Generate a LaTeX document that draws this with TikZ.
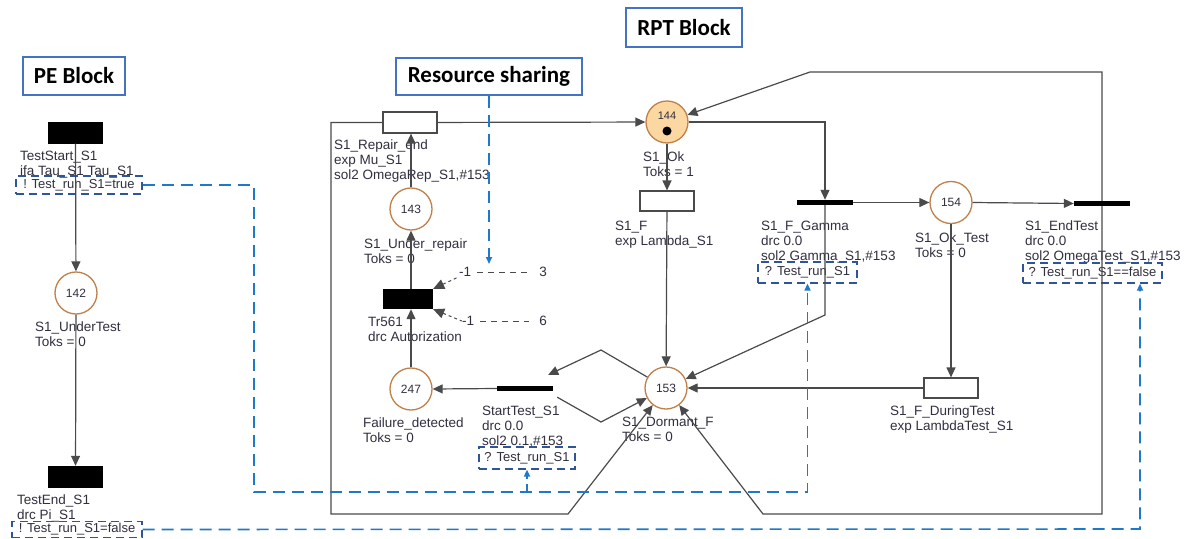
\documentclass[tikz,border=0pt]{standalone}
\usepackage{fontspec}
\setmainfont{Liberation Sans}
\newfontfamily\blockfont{Carlito}
\usetikzlibrary{arrows.meta,calc}
\definecolor{arcc}{HTML}{4A4A4A}
\definecolor{placec}{HTML}{C0804A}
\definecolor{okfill}{HTML}{FBD7A2}
\definecolor{sigblue}{HTML}{1F78C8}
\definecolor{condblue}{HTML}{2F5597}
\definecolor{blockblue}{HTML}{4472C4}
\definecolor{txt}{HTML}{303040}
\begin{document}
\begin{tikzpicture}[x=1pt,y=-1pt,
 lab/.style={anchor=north west, align=left, inner sep=0pt, font=\fontsize{13.5}{15}\selectfont, text=txt},
 place/.style={circle, draw=placec, line width=1.3pt, minimum size=42pt, inner sep=0pt, font=\fontsize{12}{13}\selectfont, text=txt},
 wtrans/.style={draw=arcc, line width=1.2pt, fill=white, minimum width=54pt, minimum height=21pt, inner sep=0pt},
 btrans/.style={fill=black, minimum width=55pt, minimum height=22pt, inner sep=0pt},
 bar/.style={fill=black, minimum width=56pt, minimum height=5pt, inner sep=0pt},
 arc/.style={draw=arcc, line width=1.2pt, -{Triangle[length=10pt,width=9pt]}},
 cond/.style={draw=condblue, dash pattern=on 8pt off 5pt, line width=1.2pt, inner sep=0pt, font=\fontsize{13}{15}\selectfont, text=txt},
 sig/.style={draw=sigblue, line width=1.6pt, dash pattern=on 12pt off 7pt, -{Triangle[length=7pt,width=6pt]}},
 block/.style={draw=blockblue, line width=1.3pt, inner sep=0pt, font=\blockfont\bfseries\fontsize{23}{26}\selectfont},
 num/.style={inner sep=0pt, font=\fontsize{13.5}{15}\selectfont, text=txt}
]
\fill[white] (0,0) rectangle (1190,538);
\useasboundingbox (0,0) rectangle (1190,538);

% block titles
\node[block, minimum width=102pt, minimum height=38pt] (pe) at (74,76) {PE Block};
\node[block, minimum width=186pt, minimum height=37pt] (rs) at (489,76.5) {Resource sharing};
\node[block, minimum width=116pt, minimum height=39pt] (rpt) at (684,27.5) {RPT Block};

% places
\node[place] (p142) at (76,293) {142};
\node[place] (p143) at (411,209) {143};
\node[place] (p247) at (411,389) {247};
\node[place, fill=okfill] (p144) at (667,122) {};
\node[num, font=\fontsize{11}{12}\selectfont] (n144) at (667,116) {144};
\fill (667,131) circle (4.5pt);
\node[place] (p153) at (666,388) {153};
\node[place] (p154) at (951,202.5) {154};

% transitions
\node[btrans] (tStart) at (75.5,132.5) {};
\node[btrans] (tEnd) at (75.5,477) {};
\node[wtrans] (tRep) at (410,122.5) {};
\node[wtrans, minimum height=20pt] (tF) at (667,201) {};
\node[wtrans, minimum height=20pt] (tDT) at (951,388) {};
\node[btrans, minimum width=50pt, minimum height=20pt] (tr561) at (408,299) {};
\node[bar] (bST) at (525,388.5) {};
\node[bar] (bG) at (825,202.5) {};
\node[bar] (bE) at (1102,203.5) {};

% labels
\node[lab] (lStart) at (20,151) {TestStart\_S1\\ifa Tau\_S1 Tau\_S1};
\node[lab] (l142) at (35,322) {S1\_UnderTest\\Toks = 0};
\node[lab] (lEnd) at (17,495) {TestEnd\_S1\\drc Pi\_S1};
\node[lab] (lRep) at (334,140) {S1\_Repair\_end\\exp Mu\_S1\\sol2 OmegaRep\_S1,\#153};
\node[lab] (l143) at (364,239) {S1\_Under\_repair\\Toks = 0};
\node[lab] (l561) at (368,317) {Tr561\\drc Autorization};
\node[lab] (l247) at (363,418) {Failure\_detected\\Toks = 0};
\node[lab] (lST) at (482,406) {StartTest\_S1\\drc 0.0\\sol2 0.1,\#153};
\node[lab] (l144) at (643,152) {S1\_Ok\\Toks = 1};
\node[lab] (lF) at (615,221) {S1\_F\\exp Lambda\_S1};
\node[lab] (lG) at (761,221) {S1\_F\_Gamma\\drc 0.0\\sol2 Gamma\_S1,\#153};
\node[lab] (l153) at (622,417) {S1\_Dormant\_F\\Toks = 0};
\node[lab] (l154) at (915,233) {S1\_Ok\_Test\\Toks = 0};
\node[lab] (lE) at (1025,221) {S1\_EndTest\\drc 0.0\\sol2 OmegaTest\_S1,\#153};
\node[lab] (lDT) at (890,406) {S1\_F\_DuringTest\\exp LambdaTest\_S1};

% condition boxes
\node[cond, minimum width=126pt, minimum height=18pt] (cT) at (79,185) {! Test\_run\_S1=true};
\node[cond, minimum width=130pt, minimum height=16pt] (cF) at (77,529.5) {! Test\_run\_S1=false};
\node[cond, minimum width=96pt, minimum height=22pt] (cST) at (527,458) {? Test\_run\_S1};
\node[cond, minimum width=99pt, minimum height=21pt] (cG) at (807.5,272.5) {? Test\_run\_S1};
\node[cond, minimum width=139pt, minimum height=20pt] (cE) at (1092.5,273) {? Test\_run\_S1==false};

% resource annotations
\node[num] (m1) at (465,272) {-1};
\node[num] (n3) at (543,272) {3};
\node[num] (m2) at (468,321) {-1};
\node[num] (n6) at (543,321) {6};
\draw[arcc, line width=1pt, dash pattern=on 6pt off 5pt, shorten <=6pt, shorten >=10pt] (m1.east) -- (n3.west);
\draw[arcc, line width=1pt, dash pattern=on 6pt off 5pt, shorten <=6pt, shorten >=10pt] (m2.east) -- (n6.west);
\draw[arcc, line width=1pt, dash pattern=on 3pt off 3pt, {Triangle[length=11pt,width=10pt]}-] (tr561.north east) -- (m1.south west);
\draw[arcc, line width=1pt, dash pattern=on 3pt off 3pt, {Triangle[length=11pt,width=10pt]}-] (tr561.south east) -- (m2.west);

% corner coordinates
\coordinate (u1) at (601,350);
\coordinate (u2) at (601,422);
\coordinate (k1) at (810,72);
\coordinate (k2) at (763,514);
\coordinate (k3) at (331,514);
\coordinate (k4) at (568,514);
\coordinate (g1) at (825,315);
\coordinate (s2) at (254,492);
\coordinate (s3) at (1140,529);
\coordinate (s4) at (489,264);

% arcs
\draw[arc] (tStart) -- (p142);
\draw[arc] (p142) -- (tEnd);
\draw[arc] (tRep) -- (p144);
\draw[arc] (p143.north) -- (tRep.south -| p143.north);
\draw[arc] (tr561.north -| p143.south) -- (p143.south);
\draw[arc] (p247.north) -- (tr561.south -| p247.north);
\draw[arc] (bST.west) -- (p247.east);
\draw[arc] (p153) -- (u1) -- ($(bST.north east)+(-5,-11)$);
\draw[arc] ($(bST.south east)+(4,6)$) -- (u2) -- (p153);
\draw[arc] (p144) -- (tF);
\draw[arc] (tF) -- (p153);
\draw[arc] (p144.east) -| (bG.north);
\draw[arc] (bG.east) -- (p154.west);
\draw[arc] (bG.south) -- (g1) -- (p153);
\draw[arc] (p154.east) -- (bE.west);
\draw[arc] (bE.north) |- (k1) -- (p144);
\draw[arc] (bE.south) |- (k2) -- (p153);
\draw[arc] (p154) -- (tDT);
\draw[arc] (tDT.west) -- (p153);
\draw[arc] (tRep.west) -| (k3) -- (k4) -- (p153);

% signal lines
\draw[sig] (cT.east) -| (s2) -| (cG.south);
\draw[sig, dash pattern=on 8pt off 5pt] (cST.south |- s2) -- (cST.south);
\draw[sig] (cF.east) -- (s3) -- (s3 |- cE.south);
\draw[sig] (rs.south) -- (s4);
\end{tikzpicture}
\end{document}
